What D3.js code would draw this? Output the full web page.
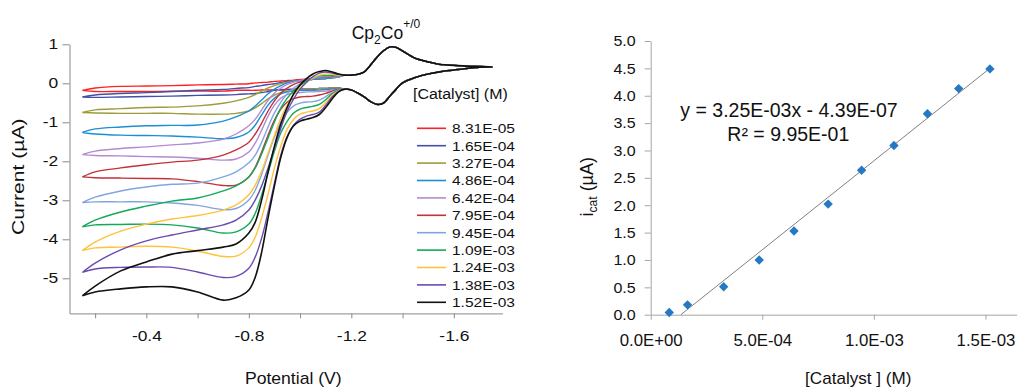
<!DOCTYPE html>
<html>
<head>
<meta charset="utf-8">
<script src="https://cdn.jsdelivr.net/npm/d3@7/dist/d3.min.js"></script>
<style>
  body { margin: 0; background: #fff; }
  svg { font-family: "Liberation Sans", Arial, sans-serif; }
</style>
</head>
<body>
<svg id="chart" width="1018" height="389"></svg>
<script>
// ---------- data ----------
const concentrationLabels = ['8.31E-05', '1.65E-04', '3.27E-04', '4.86E-04', '6.42E-04', '7.95E-04',
  '9.45E-04', '1.09E-03', '1.24E-03', '1.38E-03', '1.52E-03'];
const concentrations = [8.31e-5, 1.65e-4, 3.27e-4, 4.86e-4, 6.42e-4, 7.95e-4, 9.45e-4, 1.09e-3, 1.24e-3, 1.38e-3, 1.52e-3];
const curveColors = ['#ff2020', '#4150a8', '#9c9c3c', '#1a8fd6', '#b48ad0', '#c0333a',
  '#80a6e0', '#14a85a', '#ffc23a', '#6a4ab0', '#111111'];

// potentials (V) where each loop was read, catalytic part
const cvPotentials = [-0.15, -0.2, -0.3, -0.4, -0.5, -0.6, -0.7, -0.75, -0.8, -0.825, -0.85, -0.875,
  -0.9, -0.925, -0.95, -0.975, -1.0, -1.025, -1.05, -1.075, -1.1, -1.125, -1.15];

// lower branch of each loop (uA)
const fwdCurrents = [
  [-0.18, -0.21, -0.21, -0.21, -0.20, -0.20, -0.20, -0.18, -0.18, -0.18, -0.17, -0.17, -0.17, -0.16, -0.16, -0.16, -0.15, -0.15, -0.15, -0.13, -0.13, -0.12, -0.12],
  [-0.35, -0.36, -0.35, -0.34, -0.33, -0.31, -0.30, -0.29, -0.27, -0.26, -0.24, -0.21, -0.18, -0.17, -0.16, -0.15, -0.15, -0.15, -0.15, -0.13, -0.13, -0.12, -0.12],
  [-0.75, -0.76, -0.77, -0.77, -0.77, -0.79, -0.79, -0.77, -0.71, -0.63, -0.52, -0.40, -0.30, -0.24, -0.20, -0.17, -0.16, -0.15, -0.15, -0.13, -0.13, -0.12, -0.12],
  [-1.26, -1.30, -1.33, -1.34, -1.35, -1.38, -1.42, -1.39, -1.25, -1.07, -0.81, -0.56, -0.38, -0.27, -0.22, -0.20, -0.18, -0.18, -0.18, -0.17, -0.16, -0.15, -0.13],
  [-1.83, -1.85, -1.86, -1.88, -1.89, -1.92, -1.97, -1.94, -1.76, -1.53, -1.20, -0.84, -0.56, -0.38, -0.29, -0.25, -0.24, -0.22, -0.22, -0.21, -0.20, -0.17, -0.15],
  [-2.40, -2.42, -2.43, -2.44, -2.45, -2.52, -2.62, -2.61, -2.40, -2.15, -1.76, -1.33, -0.94, -0.66, -0.48, -0.39, -0.35, -0.34, -0.33, -0.30, -0.26, -0.20, -0.16],
  [-3.06, -3.04, -3.04, -3.04, -3.07, -3.13, -3.24, -3.21, -2.99, -2.74, -2.33, -1.84, -1.38, -0.99, -0.74, -0.58, -0.51, -0.48, -0.47, -0.43, -0.34, -0.24, -0.17],
  [-3.68, -3.63, -3.62, -3.61, -3.63, -3.71, -3.84, -3.81, -3.61, -3.33, -2.86, -2.30, -1.74, -1.27, -0.97, -0.76, -0.66, -0.62, -0.59, -0.54, -0.42, -0.27, -0.18],
  [-4.29, -4.22, -4.20, -4.18, -4.20, -4.30, -4.44, -4.43, -4.22, -3.94, -3.45, -2.84, -2.17, -1.61, -1.17, -0.92, -0.79, -0.74, -0.71, -0.65, -0.49, -0.31, -0.20],
  [-4.85, -4.76, -4.72, -4.71, -4.72, -4.84, -4.98, -4.95, -4.74, -4.45, -3.97, -3.30, -2.56, -1.84, -1.35, -1.07, -0.92, -0.84, -0.80, -0.74, -0.56, -0.35, -0.21],
  [-5.45, -5.35, -5.27, -5.22, -5.22, -5.35, -5.56, -5.50, -5.30, -4.97, -4.33, -3.45, -2.63, -1.89, -1.38, -1.09, -0.97, -0.92, -0.88, -0.80, -0.62, -0.40, -0.22]
];

// upper branch of each loop (uA)
const revCurrents = [
  [-0.18, -0.12, -0.08, -0.07, -0.06, -0.04, -0.03, -0.02, -0.01, 0.01, 0.02, 0.03, 0.05, 0.06, 0.07, 0.08, 0.10, 0.11, 0.12, 0.14, 0.15, 0.16, 0.17],
  [-0.35, -0.30, -0.26, -0.24, -0.21, -0.18, -0.16, -0.13, -0.11, -0.08, -0.06, -0.03, -0.01, 0.02, 0.05, 0.06, 0.07, 0.08, 0.10, 0.11, 0.12, 0.14, 0.16],
  [-0.75, -0.68, -0.65, -0.62, -0.61, -0.58, -0.51, -0.45, -0.36, -0.29, -0.20, -0.12, -0.06, -0.01, 0.03, 0.06, 0.07, 0.08, 0.10, 0.11, 0.12, 0.14, 0.16],
  [-1.26, -1.17, -1.12, -1.09, -1.08, -1.07, -0.97, -0.86, -0.71, -0.58, -0.43, -0.27, -0.15, -0.06, 0.01, 0.05, 0.07, 0.08, 0.10, 0.11, 0.12, 0.14, 0.16],
  [-1.83, -1.74, -1.67, -1.63, -1.58, -1.53, -1.43, -1.30, -1.09, -0.92, -0.68, -0.44, -0.25, -0.12, -0.03, 0.03, 0.07, 0.10, 0.12, 0.14, 0.15, 0.16, 0.17],
  [-2.40, -2.27, -2.17, -2.09, -2.02, -1.97, -1.84, -1.71, -1.51, -1.30, -1.02, -0.71, -0.45, -0.25, -0.12, -0.03, 0.03, 0.08, 0.12, 0.15, 0.16, 0.17, 0.19],
  [-3.06, -2.92, -2.76, -2.66, -2.59, -2.56, -2.40, -2.27, -2.04, -1.84, -1.51, -1.12, -0.76, -0.48, -0.27, -0.12, -0.02, 0.07, 0.12, 0.16, 0.17, 0.19, 0.19],
  [-3.68, -3.51, -3.30, -3.15, -3.02, -2.94, -2.76, -2.63, -2.40, -2.17, -1.81, -1.40, -0.99, -0.63, -0.38, -0.20, -0.06, 0.06, 0.14, 0.19, 0.20, 0.20, 0.20],
  [-4.29, -4.07, -3.79, -3.61, -3.48, -3.39, -3.25, -3.12, -2.86, -2.61, -2.25, -1.79, -1.33, -0.89, -0.56, -0.30, -0.12, 0.02, 0.14, 0.21, 0.24, 0.23, 0.21],
  [-4.85, -4.61, -4.27, -4.04, -3.89, -3.76, -3.63, -3.51, -3.25, -2.99, -2.63, -2.17, -1.66, -1.15, -0.71, -0.40, -0.15, 0.03, 0.17, 0.26, 0.29, 0.26, 0.23],
  [-5.45, -5.20, -4.81, -4.58, -4.38, -4.29, -4.20, -4.12, -3.84, -3.56, -2.99, -2.27, -1.61, -1.04, -0.61, -0.27, -0.04, 0.12, 0.24, 0.30, 0.33, 0.29, 0.24]
];

// Cp2Co+/0 wave, common to every loop
const wavePotentials = [-1.175, -1.2, -1.225, -1.25, -1.275, -1.3, -1.325, -1.35, -1.375, -1.4, -1.45, -1.5, -1.55, -1.6, -1.65, -1.7];
const waveForward = [-0.15, -0.17, -0.25, -0.35, -0.47, -0.54, -0.51, -0.33, -0.15, 0.01, 0.15, 0.24, 0.30, 0.34, 0.38, 0.41];
const waveReverse = [0.21, 0.21, 0.23, 0.29, 0.47, 0.67, 0.83, 0.93, 0.92, 0.83, 0.64, 0.55, 0.48, 0.46, 0.44, 0.43];
const switchingPoint = [-1.75, 0.42];

const potentialTicks = [-0.2, -0.4, -0.6, -0.8, -1.0, -1.2, -1.4, -1.6];
const potentialLabels = [-0.4, -0.8, -1.2, -1.6];
const currentTicks = [1, 0, -1, -2, -3, -4, -5];

// right plot
const icat = [0.04, 0.18, 0.51, 1.00, 1.53, 2.02, 2.64, 3.09, 3.67, 4.13, 4.49];
const icatTicks = [0, 0.5, 1.0, 1.5, 2.0, 2.5, 3.0, 3.5, 4.0, 4.5, 5.0];
const concTicks = [0, 5e-4, 1e-3, 1.5e-3];
const concTickLabels = ['0.0E+00', '5.0E-04', '1.0E-03', '1.5E-03'];
const trendSlope = 3.25E-03;      // A / M
const trendIntercept = -4.39E-07; // A
const trendR2 = '9.95E-01';

// ---------- drawing ----------
const svg = d3.select('#chart');
const axisGrey = '#8a8a8a';

function addText(x, y, str, size, sx, anchor, angle) {
  return svg.append('text')
    .attr('transform', `translate(${x},${y}) rotate(${angle || 0}) scale(${sx},1)`)
    .attr('text-anchor', anchor)
    .attr('font-size', size)
    .attr('fill', '#111')
    .text(str);
}

function styleAxis(g, size, sx, color) {
  g.attr('font-family', null).attr('font-size', null);
  g.select('.domain').attr('stroke', color);
  g.selectAll('.tick line').attr('stroke', color);
  g.selectAll('.tick text')
    .attr('font-size', size)
    .attr('fill', '#111')
    .attr('transform', `scale(${sx},1)`);
}

// left chart
const xCV = d3.scaleLinear().domain([-0.1, -1.79]).range([69.5, 502.5]);
const yCV = d3.scaleLinear().domain([-5.9, 1]).range([313.4, 44.3]);

const gxL = svg.append('g')
  .attr('transform', `translate(0,${yCV.range()[0]})`)
  .call(d3.axisBottom(xCV).tickValues(potentialTicks).tickSize(5).tickSizeOuter(0).tickPadding(12)
    .tickFormat(d => potentialLabels.includes(d) ? d.toFixed(1) : ''));
styleAxis(gxL, 14.5, 1.2, axisGrey);

const gyL = svg.append('g')
  .attr('transform', `translate(${xCV.range()[0]},0)`)
  .call(d3.axisLeft(yCV).tickValues(currentTicks).tickSize(7).tickSizeOuter(0).tickPadding(2.5)
    .tickFormat(d => String(d)));
styleAxis(gyL, 14.5, 1.2, axisGrey);

const line = d3.line()
  .x(d => xCV(d[0]))
  .y(d => yCV(d[1]))
  .curve(d3.curveCatmullRom.alpha(0.5));

function loopPoints(k) {
  const pts = [];
  cvPotentials.forEach((e, j) => pts.push([e, fwdCurrents[k][j]]));
  wavePotentials.forEach((e, j) => pts.push([e, waveForward[j]]));
  pts.push(switchingPoint);
  for (let j = wavePotentials.length - 1; j >= 0; j--) pts.push([wavePotentials[j], waveReverse[j]]);
  for (let j = cvPotentials.length - 1; j >= 0; j--) pts.push([cvPotentials[j], revCurrents[k][j]]);
  return pts;
}

svg.append('g')
  .selectAll('path')
  .data(concentrationLabels)
  .join('path')
  .attr('d', (d, k) => line(loopPoints(k)))
  .attr('fill', 'none')
  .attr('stroke', (d, k) => curveColors[k])
  .attr('stroke-width', (d, k) => k === 10 ? 1.6 : 1.4)
  .attr('stroke-linejoin', 'round');

// title
const title = svg.append('text').attr('x', 351.7).attr('y', 38.5).attr('font-size', 17.5).attr('fill', '#111');
title.append('tspan').text('Cp');
title.append('tspan').attr('font-size', 12).attr('dy', 5).text('2');
title.append('tspan').attr('dy', -5).text('Co');
title.append('tspan').attr('font-size', 12).attr('dy', -11).text('+/0');

// legend
addText(413, 99, '[Catalyst] (M)', 14.5, 1.1, 'start');
const legend = svg.append('g')
  .selectAll('g')
  .data(concentrationLabels)
  .join('g')
  .attr('transform', (d, k) => `translate(417,${128.3 + k * 17.4})`);
legend.append('line')
  .attr('x1', 0).attr('x2', 29)
  .attr('stroke', (d, k) => curveColors[k])
  .attr('stroke-width', 1.6);
legend.append('text')
  .attr('transform', 'translate(35,0) scale(1.15,1)')
  .attr('dy', '0.36em')
  .attr('font-size', 13.5)
  .attr('fill', '#111')
  .text(d => d);

addText(293.3, 384, 'Potential (V)', 16, 1.1, 'middle');
addText(24, 176.7, 'Current (\u00b5A)', 16.5, 1.28, 'middle', -90);

// right chart
const xR = d3.scaleLinear().domain([0, 1.64e-3]).range([650.7, 1016.7]);
const yR = d3.scaleLinear().domain([0, 5]).range([314.7, 41]);
const rightGrey = '#a6a6a6';

const gxR = svg.append('g')
  .attr('transform', `translate(0,${yR.range()[0]})`)
  .call(d3.axisBottom(xR).tickValues(concTicks).tickSize(5).tickSizeOuter(0).tickPadding(15)
    .tickFormat((d, i) => concTickLabels[i]));
styleAxis(gxR, 16, 1.05, rightGrey);

const gyR = svg.append('g')
  .attr('transform', `translate(${xR.range()[0]},0)`)
  .call(d3.axisLeft(yR).tickValues(icatTicks).tickSize(6).tickSizeOuter(0).tickPadding(8)
    .tickFormat(d => d.toFixed(1)));
styleAxis(gyR, 15, 1.07, rightGrey);

// linear fit
const x0 = -trendIntercept / trendSlope;
const xEnd = concentrations[concentrations.length - 1];
const fit = x => (trendSlope * x + trendIntercept) * 1e6;
svg.append('line')
  .attr('x1', xR(x0)).attr('y1', yR(fit(x0)))
  .attr('x2', xR(xEnd)).attr('y2', yR(fit(xEnd)))
  .attr('stroke', '#7f7f7f')
  .attr('stroke-width', 1);

svg.append('g')
  .selectAll('path')
  .data(icat)
  .join('path')
  .attr('transform', (d, i) => `translate(${xR(concentrations[i])},${yR(d)}) rotate(45)`)
  .attr('d', d3.symbol(d3.symbolSquare).size(44))
  .attr('fill', '#2479c2');

const eqText = `y = ${trendSlope.toExponential(2).toUpperCase().replace('E-', 'E-0')}x - ${(-trendIntercept).toExponential(2).toUpperCase().replace('E-', 'E-0')}`;
addText(789, 117, eqText, 19.5, 1, 'middle');
addText(788.3, 140.5, `R\u00b2 = ${trendR2}`, 19.5, 1, 'middle');

addText(858.3, 384, '[Catalyst ] (M)', 16, 1.07, 'middle');
const yl = svg.append('text')
  .attr('transform', 'translate(593,186.7) rotate(-90)')
  .attr('text-anchor', 'middle')
  .attr('font-size', 18)
  .attr('fill', '#111');
yl.append('tspan').text('i');
yl.append('tspan').attr('font-size', 12).attr('dy', 4).text('cat');
yl.append('tspan').attr('dy', -4).text(' (\u00b5A)');
</script>
</body>
</html>
